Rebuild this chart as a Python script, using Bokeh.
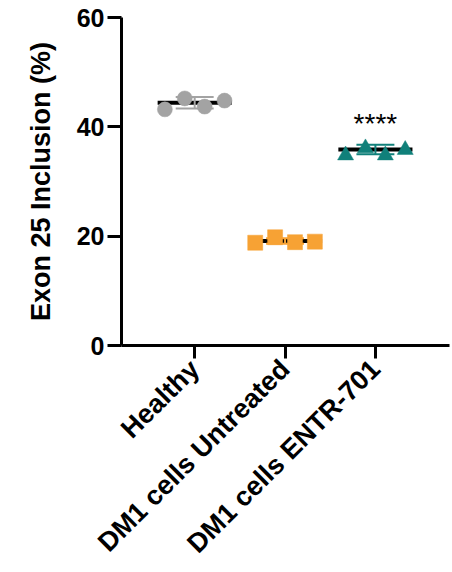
import math
from bokeh.plotting import figure
from bokeh.models import FixedTicker, ColumnDataSource
from bokeh.core.properties import value
from bokeh.embed import file_html
from bokeh.resources import INLINE

# Groups and per-replicate exon 25 inclusion (%)
groups = ["Healthy", "DM1 cells Untreated", "DM1 cells ENTR-701"]
healthy = [43.2, 45.2, 43.7, 44.8]
untreated = [18.8, 19.8, 18.9, 19.0]
entr701 = [34.8, 36.1, 34.8, 35.8]

# Group summary (mean and SD)
means = [44.4, 19.1, 35.85]
sds = [1.05, 0.5, 0.85]

# Replicate offsets within each group (jitter columns)
offsets = [-0.33, -0.11, 0.11, 0.33]

colors = ["#a3a3a3", "#f7a234", "#10807a"]
markers = ["circle", "square", "triangle"]
y_ticks = [0, 20, 40, 60]
significance = "****"

FONT = "Liberation Sans"

p = figure(width=452, height=572, output_backend="svg", toolbar_location=None,
           x_range=(0.19, 3.82), y_range=(0, 60),
           min_border_left=121, min_border_right=3, min_border_top=17,
           min_border_bottom=227)
p.outline_line_color = None
p.xgrid.visible = False
p.ygrid.visible = False
p.background_fill_color = "white"

xs = [1, 2, 3]
series = [healthy, untreated, entr701]

# mean bars
p.segment(x0=[x - 0.41 for x in xs], x1=[x + 0.41 for x in xs], y0=means, y1=means,
          line_color="black", line_width=4)

# SD error bars with caps
for x, m, s, c in zip(xs, means, sds, colors):
    p.segment(x0=[x, x - 0.21, x - 0.21], x1=[x, x + 0.21, x + 0.21],
              y0=[m - s, m - s, m + s], y1=[m + s, m - s, m + s],
              line_color=c, line_width=2)

# replicate points
for x, vals, c, mk in zip(xs, series, colors, markers):
    src = ColumnDataSource(dict(x=[x + o for o in offsets], y=vals))
    p.scatter("x", "y", source=src, marker=mk, size=15 if mk != "triangle" else 16,
              fill_color=c, line_color=c, line_width=0.5)

# significance marker above the treated group
p.text(x=[3], y=[40.6], text=[significance], text_align="center",
       text_baseline="middle", text_font=value(FONT), text_font_size="28px",
       text_color="black")

# axes
for ax in (p.xaxis[0], p.yaxis[0]):
    ax.axis_line_width = 3
    ax.major_tick_line_width = 3
    ax.major_tick_in = 0
    ax.minor_tick_line_color = None
    ax.major_label_text_font = FONT
    ax.major_label_text_font_style = "bold"
    ax.major_label_text_color = "black"
    ax.axis_line_color = "black"
    ax.major_tick_line_color = "black"

p.yaxis.ticker = FixedTicker(ticks=y_ticks)
p.yaxis.major_tick_out = 14
p.yaxis.major_label_standoff = 3
p.yaxis.major_label_text_font_size = "25px"
p.yaxis.axis_label = "Exon 25 Inclusion (%)"
p.yaxis.axis_label_text_font = FONT
p.yaxis.axis_label_text_font_style = "bold"
p.yaxis.axis_label_text_font_size = "27px"
p.yaxis.axis_label_text_color = "black"
p.yaxis.axis_label_standoff = 18

p.xaxis.ticker = FixedTicker(ticks=xs)
p.xaxis.major_label_overrides = {x: g for x, g in zip(xs, groups)}
p.xaxis.major_tick_out = 13
p.xaxis.major_label_standoff = 6
p.xaxis.major_label_text_font_size = "27px"
p.xaxis.major_label_orientation = math.pi / 4

open("out.html", "w").write(file_html(p, INLINE))
